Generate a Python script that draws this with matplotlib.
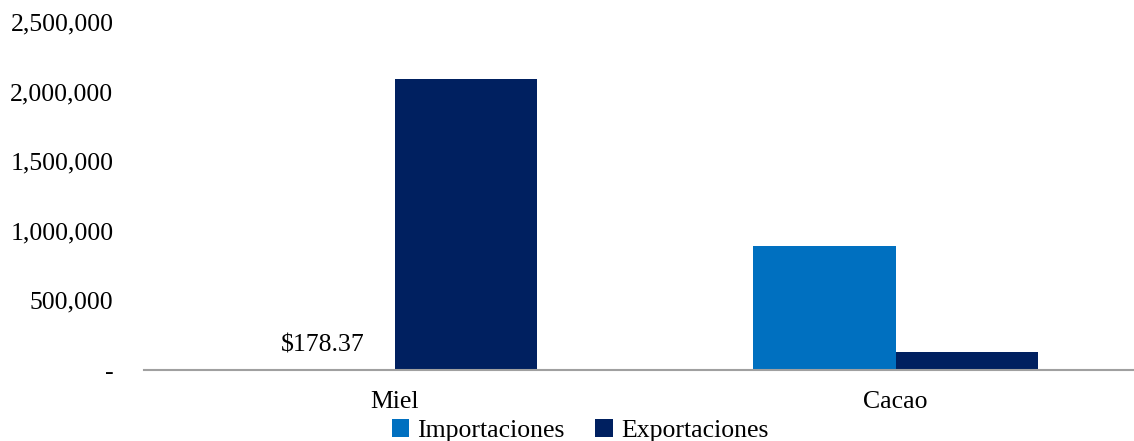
import matplotlib.pyplot as plt
import numpy as np
from matplotlib.ticker import FuncFormatter

categories = ["Miel", "Cacao"]
importaciones = [178.37, 890000]
exportaciones = [2090000, 128000]
series_names = ["Importaciones", "Exportaciones"]
colors = ["#0070C0", "#002060"]

plt.rcParams['font.family'] = ['Liberation Serif', 'DejaVu Serif']
fs = 18.5

fig = plt.figure(figsize=(11.34, 4.41), dpi=100)
ax = fig.add_axes([144 / 1134, 71 / 441, 1002 / 1134, (370 - 22) / 441])

x = np.arange(len(categories))
w = 0.285
ax.bar(x - w / 2, importaciones, w, color=colors[0], label=series_names[0])
ax.bar(x + w / 2, exportaciones, w, color=colors[1], label=series_names[1])

# data label only on the tiny Miel import value
ax.annotate("${:,.2f}".format(importaciones[0]), (x[0] - w / 2, importaciones[0]),
            xytext=(0, 10), textcoords="offset points", ha="center", va="bottom",
            fontsize=fs)

ax.set_xlim(-0.5, 1.5)
ax.set_ylim(0, 2500000)
ax.set_yticks(np.arange(0, 2500001, 500000))
ax.yaxis.set_major_formatter(FuncFormatter(lambda v, p: "-" if v == 0 else "{:,.0f}".format(v)))
ax.set_xticks(x)
ax.set_xticklabels(categories)
ax.tick_params(axis="both", length=0, labelsize=fs)
ax.tick_params(axis="y", pad=22)
ax.tick_params(axis="x", pad=15)

for s in ["top", "right", "left"]:
    ax.spines[s].set_visible(False)
ax.spines["bottom"].set_color("#A0A0A0")
ax.spines["bottom"].set_linewidth(1.5)

ax.legend(loc="lower center", bbox_to_anchor=(580 / 1134, -0.025), bbox_transform=fig.transFigure,
          ncol=2, frameon=False, fontsize=fs, handlelength=0.7, handleheight=0.7,
          handletextpad=0.3, columnspacing=1.2, borderaxespad=0.0)

fig.savefig("out.png", dpi=100)
